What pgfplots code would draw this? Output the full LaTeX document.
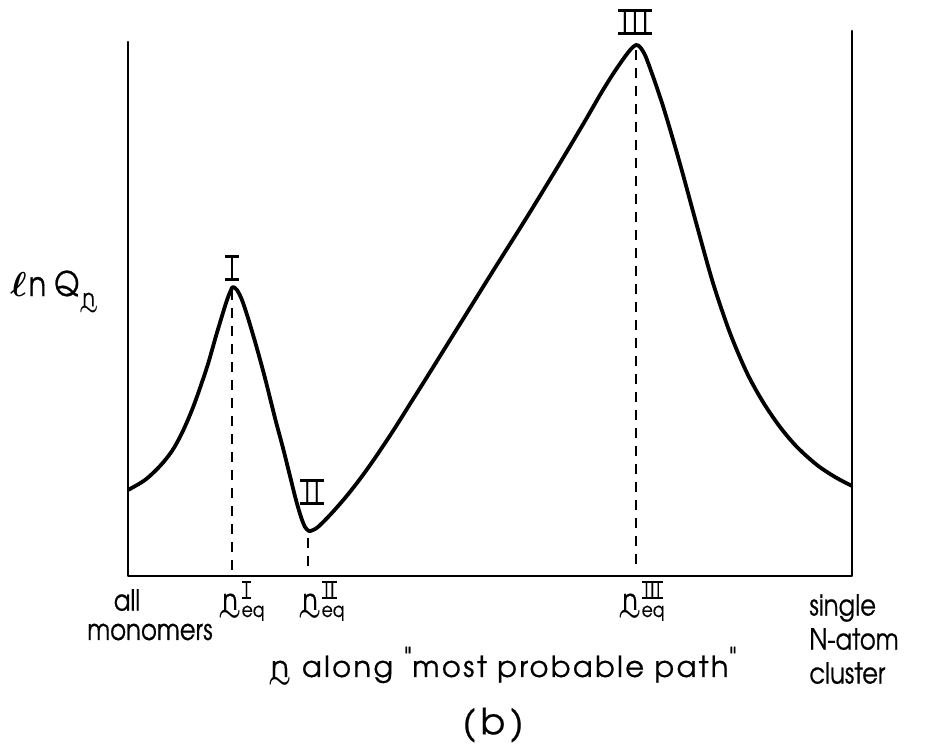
\documentclass[border=0pt]{standalone}
\usepackage{amsmath}
\usepackage{fontspec}
\setmainfont{TeX Gyre Adventor}[FakeStretch=0.84, FakeBold=0.6]
\newfontfamily\widefont{TeX Gyre Adventor}[LetterSpace=8, FakeBold=0.6]
\newfontfamily\bfont{TeX Gyre Adventor}[LetterSpace=14, FakeBold=0.6]
\usepackage{graphicx}
\usepackage{pgfplots}
\pgfplotsset{compat=1.18}
\newcommand{\RN}[1]{\leavevmode\vbox{\hrule height 0.1em\kern-0.02em\hbox{\kern0.14em#1\kern0.14em}\kern-0.02em\hrule height 0.1em}}
\newcommand{\vn}{\leavevmode\smash[b]{\vtop{\offinterlineskip\halign{\hfil##\hfil\cr n\cr\noalign{\kern0pt}\scalebox{0.9}[1]{$\boldsymbol{\sim}$}\cr}}}}
\newcommand{\neqlab}[1]{$\text{\vn}^{\text{\RN{#1}}}_{\text{eq}}$}
\newcommand{\labfont}{\fontsize{14.5}{17}\selectfont}
\begin{document}
\begin{tikzpicture}
\useasboundingbox (-64pt,-84.5pt) rectangle (399.5pt,288pt);
\begin{axis}[at={(0pt,0pt)}, anchor=south west, scale only axis,
  width=362pt, height=272.5pt, xmin=128, xmax=852, ymin=0, ymax=545,
  hide axis, clip=false]
\draw[line width=1.3pt, line cap=round, line join=round] (axis cs:128,534) -- (axis cs:128,0) -- (axis cs:852,0) -- (axis cs:852,545);
\addplot[line width=1.9pt, smooth, tension=0.5, line join=round] coordinates {
(128,86) (145,96) (160,110) (172,125) (182,143) (192,166) (200,188)
(208,212) (216,240) (222,260) (227,276) (231,286) (233,289)
(237,286) (242,276) (248,258) (256,231) (265,198) (275,158) (283,128)
(290,100) (296,76) (301,59) (305,49) (309,45) (313,46) (318,49)
(330,61) (345,78) (360,97) (375,118) (393,145) (410,172) (427,199)
(460,252) (493,305) (527,359) (560,413) (585,455) (600,481) (613,502)
(624,518) (631,527) (636,531) (640,529) (645,521) (650,508) (656,491)
(663,470) (672,440) (682,405) (697,350) (713,293) (730,243) (747,203)
(763,174) (780,149) (797,129) (817,111) (835,99) (852,90)};
\addplot[line width=1pt, dash pattern=on 5pt off 4pt] coordinates {(232,286) (232,5)};
\addplot[line width=1pt, dash pattern=on 5pt off 4pt] coordinates {(308,38) (308,4)};
\addplot[line width=1pt, dash pattern=on 5pt off 4pt] coordinates {(636,526) (636,5)};
\node[font=\labfont] at (axis cs:232,308) {\RN{I}};
\node[font=\labfont] at (axis cs:312,84) {\RN{I\kern0.14em I}};
\node[font=\labfont] at (axis cs:635,554) {\RN{I\kern0.16em I\kern0.16em I}};
\node[font=\labfont] at (axis cs:242,-25) {\neqlab{I}};
\node[font=\labfont] at (axis cs:322,-25) {\neqlab{I\kern0.1em I}};
\node[font=\labfont] at (axis cs:642,-25) {\neqlab{I\kern0.1em I\kern0.1em I}};
\node[font=\labfont] at (axis cs:127,-24) {all};
\node[font=\labfont] at (axis cs:150,-56) {monomers};
\node[font=\labfont, anchor=west, align=left, inner sep=0pt] at (axis cs:809,-63) {single\\N-atom\\cluster};
\node[font=\labfont\widefont, anchor=west, inner sep=0pt] at (axis cs:268,-89) {\vn\ along \raisebox{0.3em}{"}most probable path\raisebox{0.3em}{"}};
\node[font=\fontsize{18}{20}\selectfont\bfont] at (axis cs:493,-149) {(b)};
\node[font=\fontsize{17}{20}\selectfont, anchor=base west, inner sep=0pt] at (axis cs:10,280) {$\boldsymbol{\ell}$\kern1pt n\kern4pt Q\raisebox{-0.3em}{\fontsize{12}{12}\selectfont\vn}};
\end{axis}
\end{tikzpicture}
\end{document}
